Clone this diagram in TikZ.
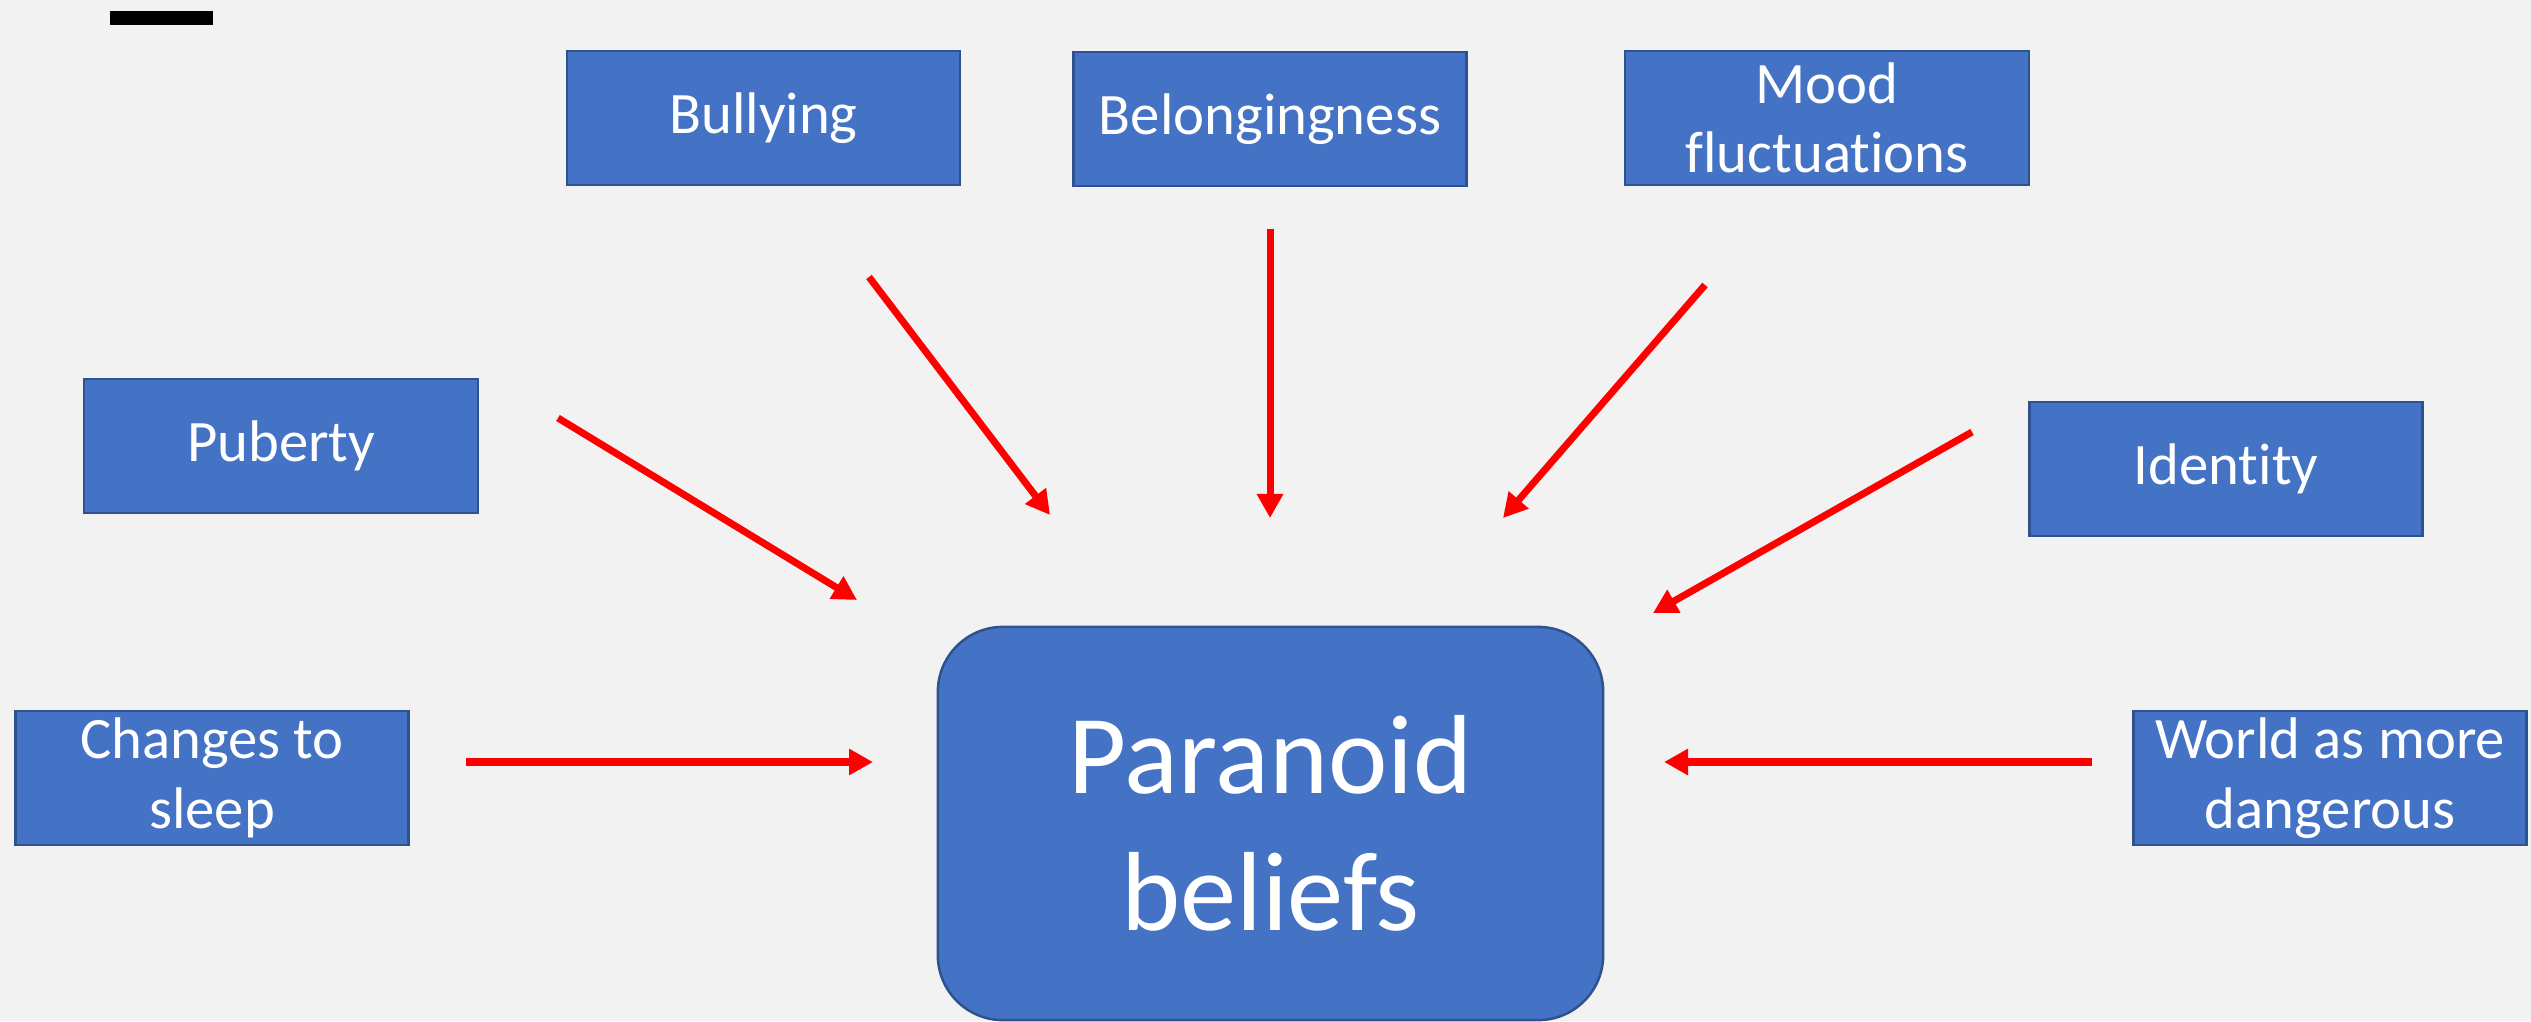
\documentclass[tikz,border=0pt]{standalone}
\usepackage{fontspec}
\setmainfont{Carlito}[Ligatures=NoCommon]
\usetikzlibrary{arrows.meta}
\definecolor{boxblue}{HTML}{4472C4}
\definecolor{boxedge}{HTML}{2F528F}
\definecolor{paper}{HTML}{F2F2F2}
\tikzset{
  factor/.style={rectangle, draw=boxedge, fill=boxblue, text=white, line width=0.7pt,
    inner sep=0pt, align=center, minimum width=3.93cm, minimum height=1.34cm,
    font=\fontsize{16.7}{19.8}\selectfont},
  effect/.style={draw=red, line width=2pt, -{Triangle[length=0.24cm,width=0.25cm]}}
}
\begin{document}
\begin{tikzpicture}[x=0.01cm,y=-0.01cm]
      \useasboundingbox (0,0) rectangle (2531,1021);
      \fill[paper] (0,0) rectangle (2531,1021);
      \fill[black] (110,11) rectangle (213,25);
      \draw
        (763.5,118) node[factor] (bullying){Bullying}
        (1270,119) node[factor] (belonging){Belongingness}
        (1827,118) node[factor, minimum width=4.04cm] (mood){Mood\\fluctuations}
        (281,446) node[factor, minimum width=3.94cm] (puberty){Puberty}
        (2226,469) node[factor] (identity){Identity}
        (212,778) node[factor] (sleep){Changes to\\sleep}
        (2330,778) node[factor] (world){World as more\\dangerous}
        (1270.5,823.5) node[factor, rounded corners=0.65cm, minimum width=6.65cm,
          minimum height=3.93cm, font=\fontsize{32}{39}\selectfont] (paranoid){Paranoid\\beliefs};
      \path
        (558,418) coordinate (puberty-s) (857,600) coordinate (puberty-e)
        (869,277) coordinate (bullying-s) (1050,515) coordinate (bullying-e)
        (1270,229) coordinate (belonging-s) (1270,518) coordinate (belonging-e)
        (1705,285) coordinate (mood-s) (1503,518) coordinate (mood-e)
        (1972,432) coordinate (identity-s) (1653,613) coordinate (identity-e)
        (466,762) coordinate (sleep-s) (873,762) coordinate (sleep-e)
        (2092,762) coordinate (world-s) (1664,762) coordinate (world-e);
      \begin{scope}[effect]
        \draw (puberty-s) to (puberty-e);
        \draw (bullying-s) to (bullying-e);
        \draw (belonging-s) to (belonging-e);
        \draw (mood-s) to (mood-e);
        \draw (identity-s) to (identity-e);
        \draw (sleep-s) to (sleep-e);
        \draw (world-s) to (world-e);
      \end{scope}
    \end{tikzpicture}
\end{document}
